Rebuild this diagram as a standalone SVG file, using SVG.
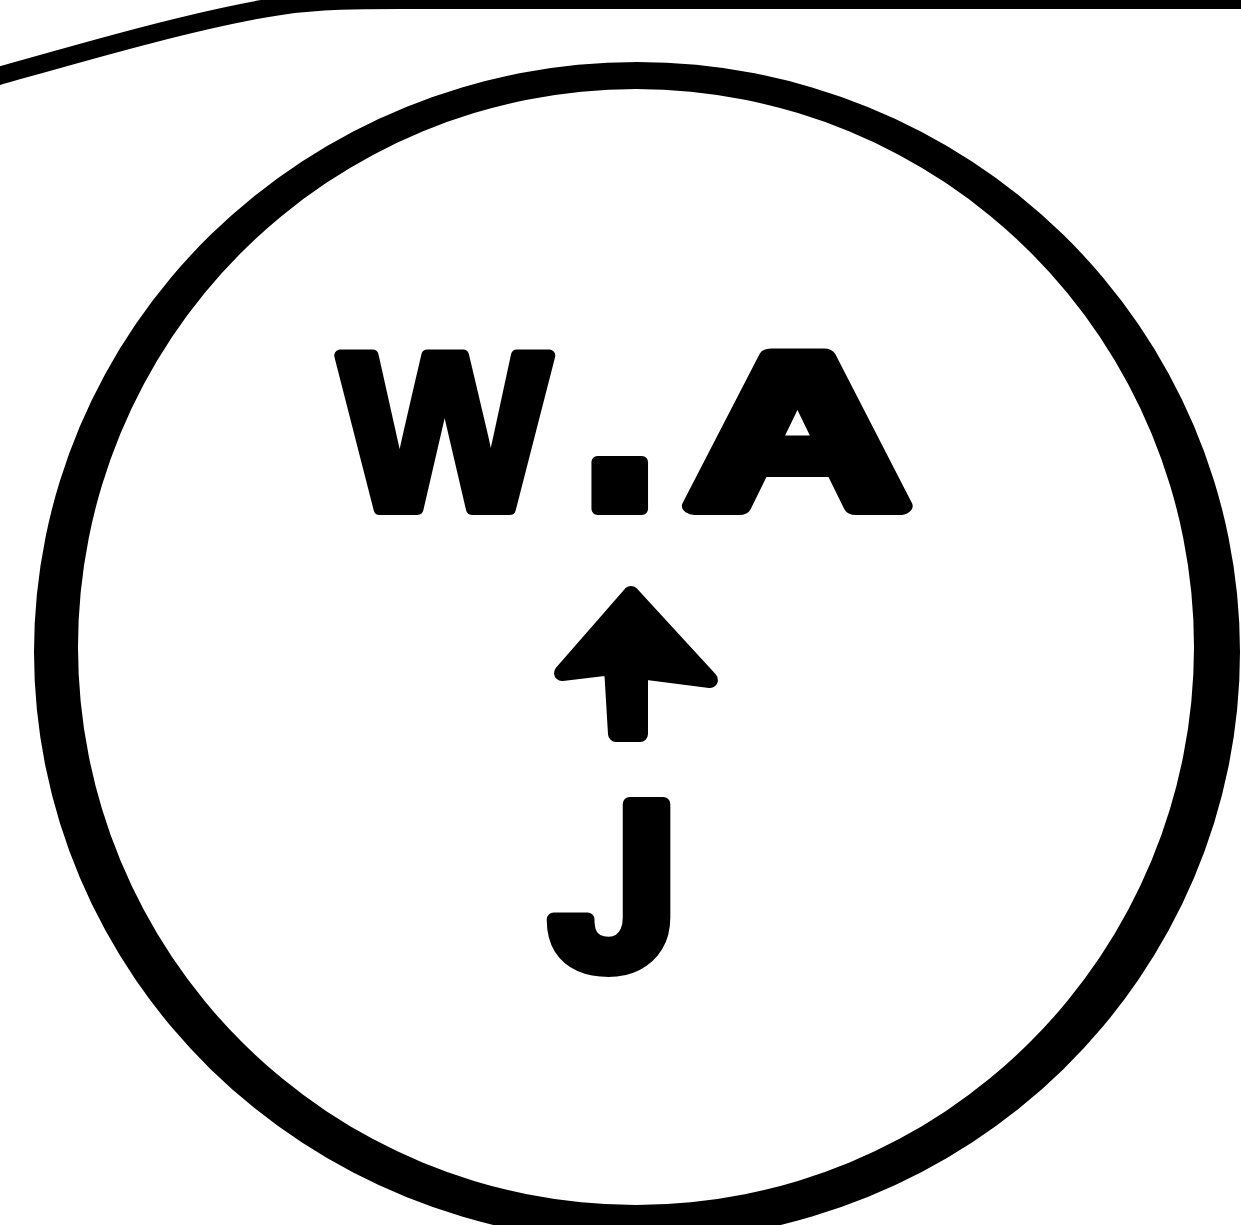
<svg xmlns="http://www.w3.org/2000/svg" width="1241" height="1225" viewBox="0 0 1241 1225">
  <style>
    .ink { fill: #000; stroke: #000; stroke-linejoin: round; stroke-linecap: round; }
    .lbl { font-family: "Liberation Sans", Arial, sans-serif; font-weight: bold; fill: #000; stroke: #000; stroke-width: 12; stroke-linejoin: round; }
    .lbl-j { font-family: Roboto, "Liberation Sans", sans-serif; stroke-width: 14; }
  </style>
  <rect width="1241" height="1225" fill="#fff"/>
  <g id="frame-curve">
    <path d="M-5,77 C80,53 200,18 280,6 C320,0 360,0 400,0 L1250,0" fill="none" stroke="#000" stroke-width="18" stroke-linecap="butt"/>
  </g>
  <g id="node-circle">
    <path fill="#000" fill-rule="evenodd" d="M34,652 A603,590 0 1,0 1240,652 A603,590 0 1,0 34,652 Z M78,647 A558,558 0 1,0 1194,647 A558,558 0 1,0 78,647 Z"/>
  </g>
  <g id="node-wa">
    <text class="lbl" font-size="222"><tspan x="340" y="509">W</tspan><tspan x="576" y="509" font-size="316">.</tspan><tspan x="687" y="506" font-size="216" stroke-width="18" textLength="221" lengthAdjust="spacingAndGlyphs">A</tspan></text>
  </g>
  <g id="node-j">
    <text class="lbl lbl-j" font-size="230" x="549" y="968">J</text>
  </g>
  <g id="connectors">
    <path class="ink" stroke-width="16" d="M631,594 L562,673 L612,667 L616,734 L640,734 L640,671 L710,680 Z"/>
  </g>
</svg>
